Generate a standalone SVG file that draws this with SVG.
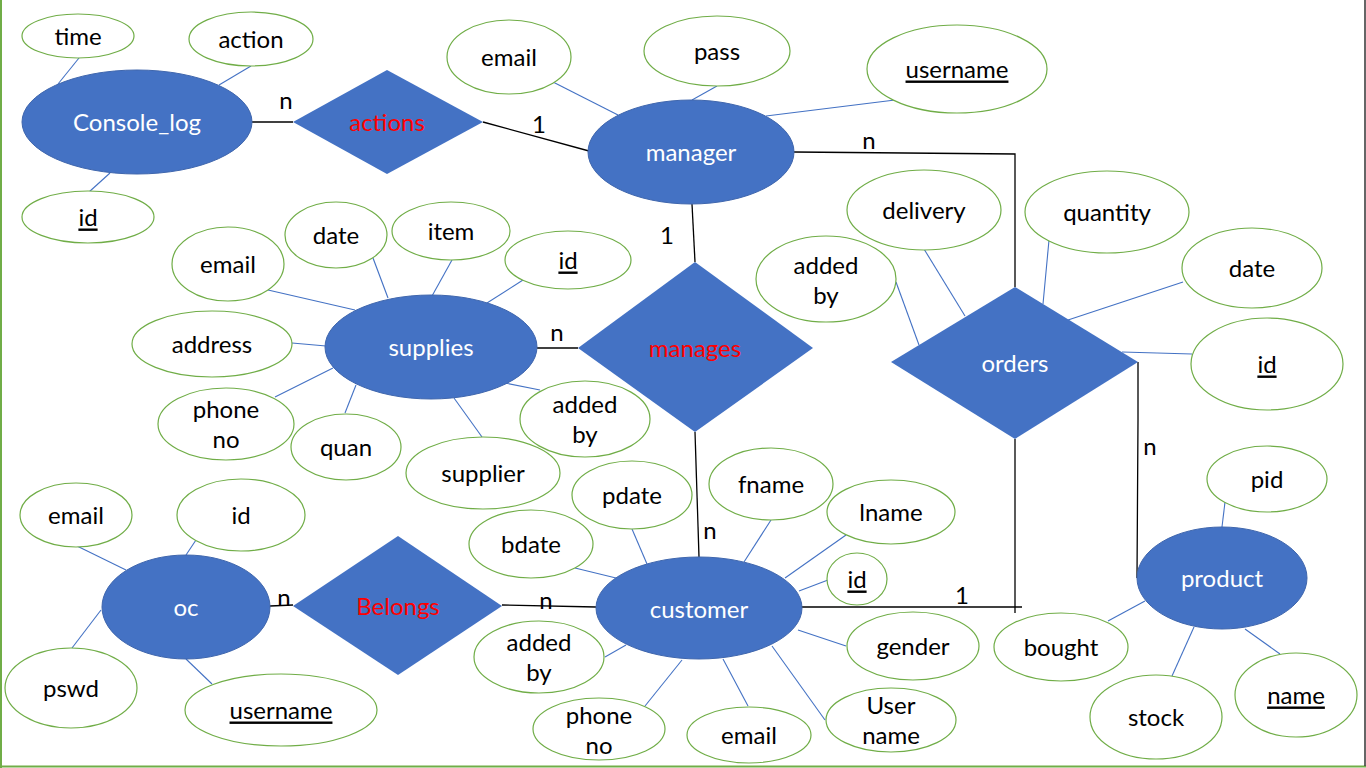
<svg xmlns="http://www.w3.org/2000/svg" width="1366" height="768" viewBox="0 0 1366 768">
<style>
.ent{fill:#4472C4;stroke:#3F66AD;stroke-width:1}
.rel{fill:#4472C4;stroke:none}
.att{fill:#fff;stroke:#70AD47;stroke-width:1.2}
.al{stroke:#4472C4;stroke-width:1.1;fill:none}
.cl{stroke:#000;stroke-width:1.3;fill:none}
text{font-family:Lato,"Open Sans","Liberation Sans",sans-serif;font-size:24px;text-anchor:middle;dominant-baseline:central}
.w{fill:#fff}
.r{fill:#FF0000}
.k{fill:#000}
.u{text-decoration:underline}
</style>
<rect x="0" y="0" width="1366" height="768" fill="#fff"/>
<line x1="1" y1="0" x2="1" y2="768" stroke="#70AD47" stroke-width="2"/>
<line x1="0" y1="766.5" x2="1366" y2="766.5" stroke="#70AD47" stroke-width="2"/>
<line x1="1365" y1="0" x2="1365" y2="766" stroke="#333" stroke-width="1.5"/>

<g id="connectors">
  <line class="al" x1="79" y1="58" x2="58" y2="84"/>
  <line class="al" x1="251" y1="66" x2="219" y2="85"/>
  <line class="al" x1="110" y1="173" x2="89" y2="192"/>
  <line class="al" x1="553" y1="82" x2="618" y2="115"/>
  <line class="al" x1="717" y1="86" x2="692" y2="100"/>
  <line class="al" x1="895" y1="100" x2="766" y2="116"/>
  <line class="al" x1="268" y1="290" x2="355" y2="310"/>
  <line class="al" x1="373" y1="258" x2="388" y2="298"/>
  <line class="al" x1="452" y1="260" x2="432" y2="296"/>
  <line class="al" x1="523" y1="280" x2="487" y2="303"/>
  <line class="al" x1="292" y1="343" x2="326" y2="346"/>
  <line class="al" x1="275" y1="397" x2="333" y2="368"/>
  <line class="al" x1="345" y1="413" x2="356" y2="385"/>
  <line class="al" x1="482" y1="437" x2="454" y2="398"/>
  <line class="al" x1="540" y1="390" x2="505" y2="383"/>
  <line class="al" x1="924" y1="249" x2="965" y2="316"/>
  <line class="al" x1="896" y1="282" x2="919" y2="345"/>
  <line class="al" x1="1049" y1="240" x2="1043" y2="304"/>
  <line class="al" x1="1183" y1="282" x2="1068" y2="320"/>
  <line class="al" x1="1122" y1="352" x2="1192" y2="354"/>
  <line class="al" x1="1225" y1="502" x2="1222" y2="527"/>
  <line class="al" x1="1108" y1="621" x2="1145" y2="601"/>
  <line class="al" x1="1172" y1="676" x2="1194" y2="627"/>
  <line class="al" x1="1280" y1="654" x2="1245" y2="629"/>
  <line class="al" x1="632" y1="529" x2="647" y2="564"/>
  <line class="al" x1="575" y1="568" x2="616" y2="578"/>
  <line class="al" x1="771" y1="520" x2="744" y2="562"/>
  <line class="al" x1="846" y1="535" x2="785" y2="578"/>
  <line class="al" x1="828" y1="580" x2="799" y2="591"/>
  <line class="al" x1="846" y1="646" x2="798" y2="630"/>
  <line class="al" x1="825" y1="720" x2="772" y2="646"/>
  <line class="al" x1="748" y1="706" x2="723" y2="659"/>
  <line class="al" x1="645" y1="706" x2="682" y2="660"/>
  <line class="al" x1="605" y1="657" x2="626" y2="645"/>
  <line class="al" x1="77" y1="546" x2="126" y2="570"/>
  <line class="al" x1="196" y1="540" x2="186" y2="555"/>
  <line class="al" x1="72" y1="648" x2="101" y2="610"/>
  <line class="al" x1="212" y1="684" x2="186" y2="659"/>
  <line class="cl" x1="252" y1="122" x2="293" y2="122"/>
  <line class="cl" x1="483" y1="122" x2="589" y2="151"/>
  <polyline class="cl" points="794,152 1015,154 1015,287"/>
  <line class="cl" x1="692" y1="204" x2="695" y2="262"/>
  <line class="cl" x1="537" y1="348" x2="578" y2="348"/>
  <line class="cl" x1="695" y1="432" x2="699" y2="557"/>
  <polyline class="cl" points="1138,362 1138,420 1137,578"/>
  <line class="cl" x1="1015" y1="439" x2="1015" y2="613"/>
  <line class="cl" x1="801" y1="607" x2="1022" y2="607"/>
  <line class="cl" x1="502" y1="605" x2="596" y2="607"/>
  <line class="cl" x1="270" y1="606" x2="293" y2="605"/>
  <text class="k" x="286" y="99">n</text>
  <text class="k" x="539" y="123">1</text>
  <text class="k" x="869" y="139">n</text>
  <text class="k" x="667" y="234">1</text>
  <text class="k" x="557" y="331">n</text>
  <text class="k" x="710" y="529">n</text>
  <text class="k" x="1150" y="445">n</text>
  <text class="k" x="962" y="594">1</text>
  <text class="k" x="546" y="599">n</text>
  <text class="k" x="284" y="596">n</text>
</g>

<g id="console_log"><ellipse class="ent" cx="137" cy="122" rx="115" ry="52"/><text class="w" x="137" y="121">Console_log</text></g>
<g id="cl_time"><ellipse class="att" cx="78" cy="36" rx="56" ry="22"/><text class="k" x="78" y="35">time</text></g>
<g id="cl_action"><ellipse class="att" cx="251" cy="39" rx="62" ry="27"/><text class="k" x="251" y="38">action</text></g>
<g id="cl_id"><ellipse class="att" cx="88" cy="217" rx="66" ry="26"/><text class="k u" x="88" y="216">id</text></g>

<g id="actions"><polygon class="rel" points="293,122 387,70 483,122 387,174"/><text class="r" x="387" y="121">actions</text></g>

<g id="manager"><ellipse class="ent" cx="691" cy="152" rx="103" ry="52"/><text class="w" x="691" y="151">manager</text></g>
<g id="m_email"><ellipse class="att" cx="509" cy="57" rx="62" ry="37"/><text class="k" x="509" y="56">email</text></g>
<g id="m_pass"><ellipse class="att" cx="717" cy="51" rx="73" ry="35"/><text class="k" x="717" y="50">pass</text></g>
<g id="m_username"><ellipse class="att" cx="957" cy="69" rx="90" ry="44"/><text class="k u" x="957" y="68">username</text></g>

<g id="manages"><polygon class="rel" points="578,348 695,262 813,348 695,432"/><text class="r" x="695" y="347">manages</text></g>

<g id="supplies"><ellipse class="ent" cx="431" cy="347" rx="106" ry="52"/><text class="w" x="431" y="346">supplies</text></g>
<g id="s_email"><ellipse class="att" cx="228" cy="264" rx="56" ry="37"/><text class="k" x="228" y="263">email</text></g>
<g id="s_date"><ellipse class="att" cx="336" cy="235" rx="51" ry="33"/><text class="k" x="336" y="234">date</text></g>
<g id="s_item"><ellipse class="att" cx="451" cy="231" rx="59" ry="29"/><text class="k" x="451" y="230">item</text></g>
<g id="s_id"><ellipse class="att" cx="568" cy="260" rx="63" ry="29"/><text class="k u" x="568" y="259">id</text></g>
<g id="s_address"><ellipse class="att" cx="212" cy="344" rx="80" ry="33"/><text class="k" x="212" y="343">address</text></g>
<g id="s_phone"><ellipse class="att" cx="226" cy="424" rx="68" ry="36"/><text class="k" x="226" y="408">phone</text><text class="k" x="226" y="438">no</text></g>
<g id="s_quan"><ellipse class="att" cx="346" cy="447" rx="55" ry="33"/><text class="k" x="346" y="446">quan</text></g>
<g id="s_supplier"><ellipse class="att" cx="483" cy="473" rx="77" ry="36"/><text class="k" x="483" y="472">supplier</text></g>
<g id="s_addedby"><ellipse class="att" cx="585" cy="419" rx="65" ry="38"/><text class="k" x="585" y="403">added</text><text class="k" x="585" y="433">by</text></g>

<g id="orders"><polygon class="rel" points="891,362 1015,287 1138,362 1015,439"/><text class="w" x="1015" y="362">orders</text></g>
<g id="o_delivery"><ellipse class="att" cx="924" cy="210" rx="77" ry="40"/><text class="k" x="924" y="209">delivery</text></g>
<g id="o_addedby"><ellipse class="att" cx="826" cy="279" rx="70" ry="43"/><text class="k" x="826" y="264">added</text><text class="k" x="826" y="294">by</text></g>
<g id="o_quantity"><ellipse class="att" cx="1107" cy="212" rx="82" ry="41"/><text class="k" x="1107" y="211">quantity</text></g>
<g id="o_date"><ellipse class="att" cx="1252" cy="268" rx="70" ry="40"/><text class="k" x="1252" y="267">date</text></g>
<g id="o_id"><ellipse class="att" cx="1267" cy="364" rx="76" ry="46"/><text class="k u" x="1267" y="363">id</text></g>

<g id="product"><ellipse class="ent" cx="1222" cy="578" rx="85" ry="51"/><text class="w" x="1222" y="577">product</text></g>
<g id="p_pid"><ellipse class="att" cx="1267" cy="479" rx="60" ry="33"/><text class="k" x="1267" y="478">pid</text></g>
<g id="p_bought"><ellipse class="att" cx="1061" cy="647" rx="67" ry="34"/><text class="k" x="1061" y="646">bought</text></g>
<g id="p_stock"><ellipse class="att" cx="1156" cy="717" rx="66" ry="42"/><text class="k" x="1156" y="716">stock</text></g>
<g id="p_name"><ellipse class="att" cx="1296" cy="695" rx="61" ry="42"/><text class="k u" x="1296" y="694">name</text></g>

<g id="customer"><ellipse class="ent" cx="699" cy="608" rx="103" ry="51"/><text class="w" x="699" y="608">customer</text></g>
<g id="c_pdate"><ellipse class="att" cx="632" cy="495" rx="60" ry="34"/><text class="k" x="632" y="494">pdate</text></g>
<g id="c_bdate"><ellipse class="att" cx="531" cy="544" rx="62" ry="34"/><text class="k" x="531" y="543">bdate</text></g>
<g id="c_fname"><ellipse class="att" cx="771" cy="484" rx="62" ry="36"/><text class="k" x="771" y="483">fname</text></g>
<g id="c_lname"><ellipse class="att" cx="891" cy="512" rx="64" ry="32"/><text class="k" x="891" y="511">lname</text></g>
<g id="c_id"><ellipse class="att" cx="857" cy="579" rx="30" ry="26"/><text class="k u" x="857" y="578">id</text></g>
<g id="c_gender"><ellipse class="att" cx="913" cy="646" rx="66" ry="34"/><text class="k" x="913" y="645">gender</text></g>
<g id="c_username"><ellipse class="att" cx="891" cy="720" rx="65" ry="32"/><text class="k" x="891" y="704">User</text><text class="k" x="891" y="734">name</text></g>
<g id="c_email"><ellipse class="att" cx="749" cy="735" rx="62" ry="28"/><text class="k" x="749" y="734">email</text></g>
<g id="c_phone"><ellipse class="att" cx="599" cy="729" rx="66" ry="31"/><text class="k" x="599" y="714">phone</text><text class="k" x="599" y="744">no</text></g>
<g id="c_addedby"><ellipse class="att" cx="539" cy="657" rx="65" ry="36"/><text class="k" x="539" y="641">added</text><text class="k" x="539" y="671">by</text></g>

<g id="belongs"><polygon class="rel" points="293,606 398,536 502,606 398,675"/><text class="r" x="398" y="605">Belongs</text></g>

<g id="oc"><ellipse class="ent" cx="186" cy="607" rx="84" ry="52"/><text class="w" x="186" y="606">oc</text></g>
<g id="oc_email"><ellipse class="att" cx="76" cy="515" rx="56" ry="32"/><text class="k" x="76" y="514">email</text></g>
<g id="oc_id"><ellipse class="att" cx="241" cy="515" rx="64" ry="36"/><text class="k" x="241" y="514">id</text></g>
<g id="oc_pswd"><ellipse class="att" cx="71" cy="688" rx="66" ry="40"/><text class="k" x="71" y="687">pswd</text></g>
<g id="oc_username"><ellipse class="att" cx="281" cy="710" rx="96" ry="36"/><text class="k u" x="281" y="709">username</text></g>
</svg>
